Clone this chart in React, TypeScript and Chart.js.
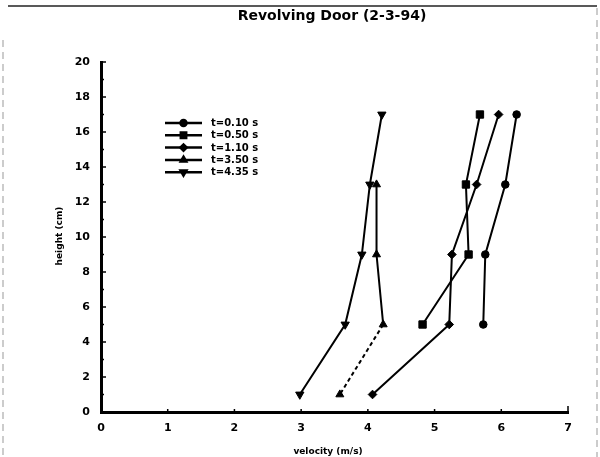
import React, { useEffect, useRef } from 'react';
import { Chart, registerables } from 'chart.js';
import { drawPoint } from 'chart.js/helpers';

Chart.register(...registerables);

const chartTitle = 'Revolving Door (2-3-94)';
const xAxisTitle = 'velocity (m/s)';
const yAxisTitle = 'height (cm)';

const heights = [17, 13, 9, 5, 1];
const seriesLabels = ['t=0.10 s', 't=0.50 s', 't=1.10 s', 't=3.50 s', 't=4.35 s'];
const velocityT010 = [6.23, 6.06, 5.76, 5.73, null];
const velocityT050 = [5.68, 5.47, 5.51, 4.82, null];
const velocityT110 = [5.96, 5.63, 5.26, 5.22, 4.07];
const velocityT350 = [null, 4.13, 4.13, 4.23, 3.58];
const velocityT435 = [4.21, 4.03, 3.91, 3.66, 2.98];
const seriesValues = [velocityT010, velocityT050, velocityT110, velocityT350, velocityT435];

// the t=3.50 s series is dashed between these heights
const dashedSeries = 't=3.50 s';
const dashedFromHeight = 5;
const dashedToHeight = 1;

const xMin = 0, xMax = 7, xStep = 1;
const yMin = 0, yMax = 20, yStep = 2;

const pointStyles = ['circle', 'rect', 'rectRot', 'triangle', 'triangle'];
const pointRotations = [0, 0, 0, 0, 180];
const pointRadii = [3.8, 5.2, 4.3, 4.6, 4.8];
const legendRadii = [3, 3.8, 3.2, 3.2, 3.4];

const FONT = '"DejaVu Sans", "Liberation Sans", sans-serif';

const decorPlugin = {
  id: 'decor',
  beforeDraw(chart: any) {
    const ctx = chart.ctx;
    ctx.save();
    ctx.fillStyle = '#fff';
    ctx.fillRect(0, 0, chart.width, chart.height);
    ctx.restore();
  },
  afterDraw(chart: any) {
    const ctx = chart.ctx;
    const area = chart.chartArea;
    const xs = chart.scales.x;
    const ys = chart.scales.y;
    ctx.save();
    // frame (scanned page border)
    ctx.strokeStyle = '#222';
    ctx.lineWidth = 1.5;
    ctx.beginPath();
    ctx.moveTo(8, 6);
    ctx.lineTo(597, 6);
    ctx.stroke();
    ctx.strokeStyle = '#999';
    ctx.lineWidth = 1;
    ctx.setLineDash([7, 5]);
    ctx.beginPath();
    ctx.moveTo(3, 40);
    ctx.lineTo(3, 457);
    ctx.moveTo(597, 8);
    ctx.lineTo(597, 457);
    ctx.stroke();
    ctx.setLineDash([]);

    // title
    ctx.fillStyle = '#000';
    ctx.font = `bold 14px ${FONT}`;
    ctx.textAlign = 'center';
    ctx.textBaseline = 'middle';
    ctx.fillText(chartTitle, 332, 16);

    // axis titles
    ctx.font = `bold 9px ${FONT}`;
    ctx.fillText(xAxisTitle, 328, 452);
    ctx.save();
    ctx.translate(60, 236);
    ctx.rotate(-Math.PI / 2);
    ctx.fillText(yAxisTitle, 0, 0);
    ctx.restore();

    // inward tick marks
    ctx.strokeStyle = '#000';
    ctx.lineWidth = 1.5;
    ctx.beginPath();
    for (let v = yMin; v <= yMax; v += 1) {
      const py = ys.getPixelForValue(v);
      const len = v % yStep === 0 ? 5 : 3;
      ctx.moveTo(area.left, py);
      ctx.lineTo(area.left + len, py);
    }
    for (let v = xMin + xStep; v <= xMax; v += xStep) {
      const px = xs.getPixelForValue(v);
      const len = v === xMax ? 6 : 3;
      ctx.moveTo(px, area.bottom);
      ctx.lineTo(px, area.bottom - len);
    }
    ctx.stroke();

    // legend
    const lx0 = 165, lx1 = 202, ly0 = 123, lstep = 12.3;
    chart.data.datasets.forEach((ds: any, i: number) => {
      const y = ly0 + i * lstep;
      ctx.strokeStyle = '#000';
      ctx.lineWidth = 2.5;
      ctx.beginPath();
      ctx.moveTo(lx0, y);
      ctx.lineTo(lx1, y);
      ctx.stroke();
      ctx.fillStyle = '#000';
      drawPoint(ctx, {
        pointStyle: ds.pointStyle,
        rotation: ds.pointRotation,
        radius: legendRadii[i],
        borderWidth: 1,
      } as any, (lx0 + lx1) / 2, y);
      ctx.fillStyle = '#000';
      ctx.font = `bold 10px ${FONT}`;
      ctx.textAlign = 'left';
      ctx.textBaseline = 'middle';
      ctx.fillText(ds.label, 211, y + 0.5);
    });
    ctx.restore();
  },
};

export default function App() {
  const ref = useRef<HTMLCanvasElement>(null);
  useEffect(() => {
    document.body.style.margin = '0';
    const datasets = seriesLabels.map((label, i) => {
      const pts = heights
        .map((h, j) => ({ x: seriesValues[i][j], y: h }))
        .filter((p) => p.x !== null);
      return {
        label,
        data: pts,
        showLine: true,
        borderColor: '#000',
        backgroundColor: '#000',
        borderWidth: 2,
        pointStyle: pointStyles[i],
        pointRotation: pointRotations[i],
        pointRadius: pointRadii[i],
        pointBorderWidth: 1,
        pointBackgroundColor: '#000',
        pointBorderColor: '#000',
        segment: {
          borderDash: (c: any) =>
            label === dashedSeries &&
            c.p0.parsed.y === dashedFromHeight &&
            c.p1.parsed.y === dashedToHeight
              ? [4, 3]
              : undefined,
        },
      };
    });
    const tickFont = { family: FONT, size: 11, weight: 'bold' as const };
    const chart = new Chart(ref.current!, {
      type: 'scatter',
      data: { datasets },
      options: {
        animation: false,
        responsive: false,
        devicePixelRatio: 1,
        layout: { padding: { top: 62, right: 32, left: 0, bottom: 0 } },
        plugins: { legend: { display: false }, title: { display: false }, tooltip: { enabled: false } },
        scales: {
          x: {
            type: 'linear',
            min: xMin,
            max: xMax,
            ticks: { stepSize: xStep, color: '#000', font: tickFont, padding: 10 },
            grid: { drawOnChartArea: false, drawTicks: false },
            border: { color: '#000', width: 3 },
            afterFit: (s: any) => { s.height = 45; },
          },
          y: {
            type: 'linear',
            min: yMin,
            max: yMax,
            ticks: { stepSize: yStep, color: '#000', font: tickFont, padding: 11 },
            grid: { drawOnChartArea: false, drawTicks: false },
            border: { color: '#000', width: 3 },
            afterFit: (s: any) => { s.width = 101; },
          },
        },
      },
      plugins: [decorPlugin],
    });
    return () => chart.destroy();
  }, []);
  return (
    <div style={{ position: 'absolute', left: 0, top: 0, width: 600, height: 457, background: '#fff' }}>
      <canvas ref={ref} width={600} height={457} style={{ display: 'block' }} />
    </div>
  );
}
